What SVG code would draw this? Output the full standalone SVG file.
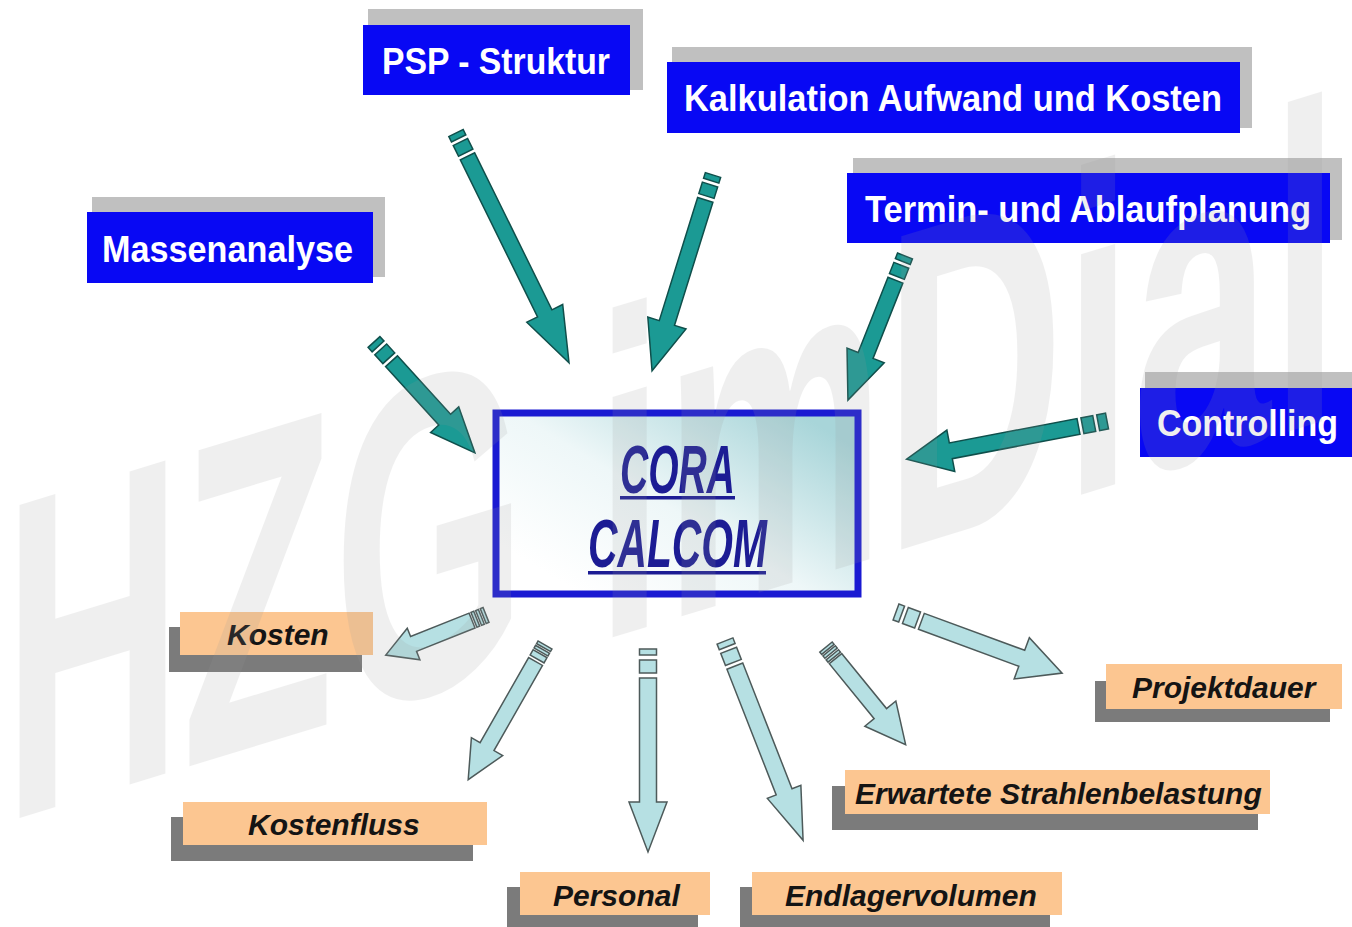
<svg xmlns="http://www.w3.org/2000/svg" width="1352" height="927" viewBox="0 0 1352 927">
<defs>
<linearGradient id="cg" x1="0.15" y1="0.9" x2="1" y2="0.2">
<stop offset="0" stop-color="#ffffff"/>
<stop offset="0.45" stop-color="#eef7f8"/>
<stop offset="1" stop-color="#a8d5d9"/>
</linearGradient>
<style>
.sh{fill:#c0c0c0}
.bb{fill:#0808f4}
.bt{fill:#ffffff;font-family:"Liberation Sans",Arial,sans-serif;font-weight:bold;font-size:36px}
.os{fill:#7b7b7b}
.ob{fill:#fcc691}
.ot{fill:#141414;font-family:"Liberation Sans",Arial,sans-serif;font-weight:bold;font-style:italic;font-size:30px}
.ct{fill:#1c1c94;font-family:"Liberation Sans",Arial,sans-serif;font-weight:bold;font-style:italic;font-size:68px}
.ta{fill:#1b9a94;stroke:#0f4f4b;stroke-width:1.5;stroke-linejoin:miter}
.la{fill:#b6e0e3;stroke:#4d5a5a;stroke-width:1.5;stroke-linejoin:miter}
.wm{fill:#999999;opacity:0.15;font-family:"Liberation Sans",Arial,sans-serif;font-weight:bold;font-size:455px}
</style>
</defs>
<rect width="1352" height="927" fill="#ffffff"/>

<g id="massenanalyse">
<rect class="sh" x="92" y="197" width="293" height="80"/>
<rect class="bb" x="87" y="212" width="286" height="71"/>
<text class="bt" x="102" y="262" textLength="251" lengthAdjust="spacingAndGlyphs">Massenanalyse</text>
</g>
<g id="psp">
<rect class="sh" x="368" y="9" width="275" height="81"/>
<rect class="bb" x="363" y="25" width="267" height="70"/>
<text class="bt" x="382" y="74" textLength="228" lengthAdjust="spacingAndGlyphs">PSP - Struktur</text>
</g>
<g id="kalkulation">
<rect class="sh" x="672" y="47" width="580" height="81"/>
<rect class="bb" x="667" y="62" width="573" height="71"/>
<text class="bt" x="684" y="111" textLength="538" lengthAdjust="spacingAndGlyphs">Kalkulation Aufwand und Kosten</text>
</g>
<g id="termin">
<rect class="sh" x="853" y="158" width="489" height="82"/>
<rect class="bb" x="847" y="173" width="483" height="70"/>
<text class="bt" x="865" y="222" textLength="446" lengthAdjust="spacingAndGlyphs">Termin- und Ablaufplanung</text>
</g>
<g id="controlling">
<rect class="sh" x="1145" y="372" width="207" height="78"/>
<rect class="bb" x="1140" y="388" width="212" height="69"/>
<text class="bt" x="1157" y="436" textLength="181" lengthAdjust="spacingAndGlyphs">Controlling</text>
</g>

<g id="cora-calcom">
<rect x="496" y="413" width="362" height="181" fill="url(#cg)" stroke="#1a1ad2" stroke-width="7"/>
<text class="ct" x="620" y="493" textLength="115" lengthAdjust="spacingAndGlyphs">CORA</text>
<rect x="620" y="496" width="115" height="3.5" fill="#1c1c94"/>
<text class="ct" x="588" y="567" textLength="179" lengthAdjust="spacingAndGlyphs">CALCOM</text>
<rect x="588" y="571" width="178" height="3.5" fill="#1c1c94"/>
</g>

<g id="kosten">
<rect class="os" x="169" y="627" width="193" height="45"/>
<rect class="ob" x="180" y="612" width="193" height="43"/>
<text class="ot" x="227" y="645">Kosten</text>
</g>
<g id="kostenfluss">
<rect class="os" x="171" y="817" width="302" height="44"/>
<rect class="ob" x="183" y="802" width="304" height="43"/>
<text class="ot" x="248" y="835">Kostenfluss</text>
</g>
<g id="personal">
<rect class="os" x="507" y="887" width="191" height="40"/>
<rect class="ob" x="520" y="872" width="190" height="43"/>
<text class="ot" x="553" y="906">Personal</text>
</g>
<g id="endlagervolumen">
<rect class="os" x="740" y="887" width="310" height="40"/>
<rect class="ob" x="752" y="872" width="310" height="43"/>
<text class="ot" x="785" y="906">Endlagervolumen</text>
</g>
<g id="strahlenbelastung">
<rect class="os" x="832" y="786" width="426" height="44"/>
<rect class="ob" x="845" y="770" width="425" height="44"/>
<text class="ot" x="855" y="804">Erwartete Strahlenbelastung</text>
</g>
<g id="projektdauer">
<rect class="os" x="1095" y="681" width="235" height="41"/>
<rect class="ob" x="1106" y="664" width="236" height="45"/>
<text class="ot" x="1132" y="698">Projektdauer</text>
</g>

<g id="connectors">
<g class="ta" transform="translate(374,342) rotate(47.7)">
<rect x="0" y="-8" width="6" height="16"/><rect x="10" y="-8" width="12" height="16"/>
<path d="M26,-8 H105 V-19 L150,0 L105,19 V8 H26 Z"/>
</g>
<g class="ta" transform="translate(456,133) rotate(63.8)">
<rect x="0" y="-8" width="6" height="16"/><rect x="10" y="-8" width="12" height="16"/>
<path d="M26,-8 H201 V-20 L256,0 L201,20 V8 H26 Z"/>
</g>
<g class="ta" transform="translate(713,175) rotate(107.3)">
<rect x="0" y="-8" width="6" height="16"/><rect x="10" y="-8" width="12" height="16"/>
<path d="M26,-8 H155 V-20 L205,0 L155,20 V8 H26 Z"/>
</g>
<g class="ta" transform="translate(905,256) rotate(111.6)">
<rect x="0" y="-8" width="6" height="16"/><rect x="10" y="-8" width="12" height="16"/>
<path d="M26,-8 H107 V-20 L155,0 L107,20 V8 H26 Z"/>
</g>
<g class="ta" transform="translate(1107,421) rotate(169.2)">
<rect x="0" y="-8" width="9" height="16"/><rect x="13" y="-8" width="12" height="16"/>
<path d="M29,-8 H159 V-21 L204,0 L159,21 V8 H29 Z"/>
</g>

<g class="la" transform="translate(486,615) rotate(158.2)">
<rect x="0" y="-8" width="3" height="16"/><rect x="5" y="-8" width="3" height="16"/><rect x="10" y="-8" width="3" height="16"/>
<path d="M15,-8 H78 V-17 L108,0 L78,17 V8 H15 Z"/>
</g>
<g class="la" transform="translate(545,645) rotate(119.7)">
<rect x="0" y="-8" width="3" height="16"/><rect x="5" y="-8" width="3" height="16"/><rect x="10" y="-8" width="6" height="16"/>
<path d="M19,-8 H117 V-18 L155,0 L117,18 V8 H19 Z"/>
</g>
<g class="la" transform="translate(648,649) rotate(90)">
<rect x="0" y="-8.5" width="6" height="17"/><rect x="11" y="-8.5" width="13" height="17"/>
<path d="M29,-8.5 H153 V-19 L203,0 L153,19 V8.5 H29 Z"/>
</g>
<g class="la" transform="translate(725,641) rotate(68.6)">
<rect x="0" y="-8.5" width="6" height="17"/><rect x="10" y="-8.5" width="13" height="17"/>
<path d="M27,-8.5 H162 V-18 L214,0 L162,18 V8.5 H27 Z"/>
</g>
<g class="la" transform="translate(826,647) rotate(50.8)">
<rect x="0" y="-8" width="3" height="16"/><rect x="5" y="-8" width="3" height="16"/><rect x="10" y="-8" width="3" height="16"/>
<path d="M15,-8 H86 V-20 L126,0 L86,20 V8 H15 Z"/>
</g>
<g class="la" transform="translate(896,612) rotate(20.2)">
<rect x="0" y="-8.5" width="6" height="17"/><rect x="10" y="-8.5" width="13" height="17"/>
<path d="M27,-8.5 H134 V-22 L177,0 L134,22 V8.5 H27 Z"/>
</g>
</g>

<text class="wm" transform="matrix(0.545,-0.166,0,1,3,823)" x="0" y="0">HZG imDial</text>
</svg>
